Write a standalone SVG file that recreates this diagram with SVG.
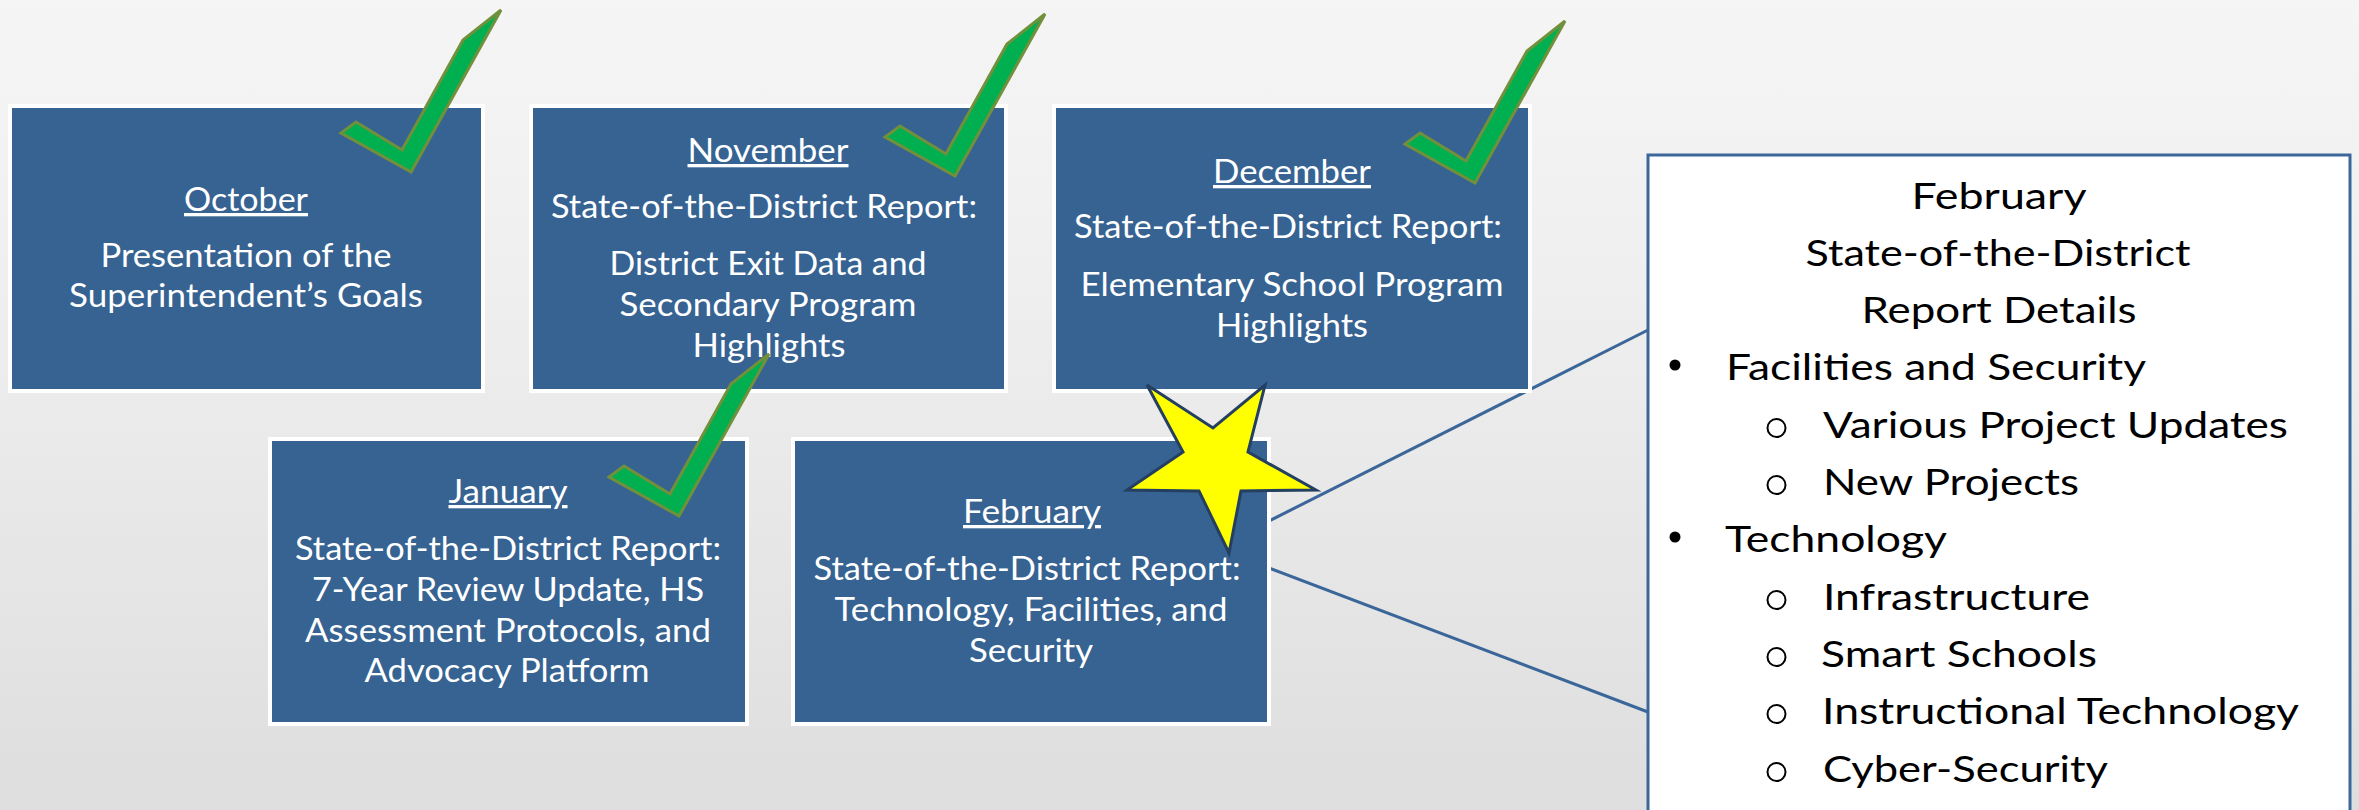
<svg xmlns="http://www.w3.org/2000/svg" xmlns:xlink="http://www.w3.org/1999/xlink" width="2359" height="810" viewBox="0 0 2359 810">
<style>
.box{fill:#366392;stroke:#ffffff;stroke-width:4}
.bt{font-family:Lato,"Open Sans",sans-serif;font-size:33px;fill:#ffffff;text-anchor:middle}
.ul{text-decoration:underline}
.pt{font-family:Lato,"Open Sans",sans-serif;font-size:37.5px;fill:#000000}
.mid{text-anchor:middle}
.check{fill:#00B050;stroke:#71903B;stroke-width:3;stroke-linejoin:miter}
.conn{stroke:#3B6699;stroke-width:3;fill:none}
.hb{fill:none;stroke:#000;stroke-width:2}
</style>
<defs>
<linearGradient id="bg" x1="0" y1="0" x2="0" y2="810" gradientUnits="userSpaceOnUse">
<stop offset="0" stop-color="#F5F5F5"/>
<stop offset="0.35" stop-color="#EFEFEF"/>
<stop offset="1" stop-color="#DEDEDE"/>
</linearGradient>
<polygon id="ck" points="0,0 90,-162 52,-132 -9,-22 -55,-50 -70,-39"/>
</defs>
<rect x="0" y="0" width="2359" height="810" fill="url(#bg)"/>

<g id="connectors">
<line class="conn" x1="1269" y1="521" x2="1648" y2="330"/>
<line class="conn" x1="1269" y1="568" x2="1648" y2="712"/>
</g>

<g id="october">
<rect class="box" x="10" y="106" width="473" height="285"/>
<text class="bt ul" x="246" y="211" textLength="124" lengthAdjust="spacingAndGlyphs">October</text>
<text class="bt" x="246" y="267" textLength="291" lengthAdjust="spacingAndGlyphs">Presentation of the</text>
<text class="bt" x="246" y="307" textLength="354" lengthAdjust="spacingAndGlyphs">Superintendent’s Goals</text>
</g>

<g id="november">
<rect class="box" x="531" y="106" width="475" height="285"/>
<text class="bt ul" x="768" y="162" textLength="161" lengthAdjust="spacingAndGlyphs">November</text>
<text class="bt" x="764" y="218" textLength="426" lengthAdjust="spacingAndGlyphs">State-of-the-District Report:</text>
<text class="bt" x="768" y="275" textLength="317" lengthAdjust="spacingAndGlyphs">District Exit Data and</text>
<text class="bt" x="768" y="316" textLength="297" lengthAdjust="spacingAndGlyphs">Secondary Program</text>
<text class="bt" x="769" y="357" textLength="153" lengthAdjust="spacingAndGlyphs">Highlights</text>
</g>

<g id="december">
<rect class="box" x="1054" y="106" width="476" height="285"/>
<text class="bt ul" x="1292" y="183" textLength="158" lengthAdjust="spacingAndGlyphs">December</text>
<text class="bt" x="1288" y="238" textLength="428" lengthAdjust="spacingAndGlyphs">State-of-the-District Report:</text>
<text class="bt" x="1292" y="296" textLength="423" lengthAdjust="spacingAndGlyphs">Elementary School Program</text>
<text class="bt" x="1292" y="337" textLength="152" lengthAdjust="spacingAndGlyphs">Highlights</text>
</g>

<g id="january">
<rect class="box" x="270" y="439" width="477" height="285"/>
<text class="bt ul" x="508" y="503" textLength="119" lengthAdjust="spacingAndGlyphs">January</text>
<text class="bt" x="508" y="560" textLength="426" lengthAdjust="spacingAndGlyphs">State-of-the-District Report:</text>
<text class="bt" x="508" y="601" textLength="392" lengthAdjust="spacingAndGlyphs">7-Year Review Update, HS</text>
<text class="bt" x="508" y="642" textLength="406" lengthAdjust="spacingAndGlyphs">Assessment Protocols, and</text>
<text class="bt" x="507" y="682" textLength="285" lengthAdjust="spacingAndGlyphs">Advocacy Platform</text>
</g>

<g id="february">
<rect class="box" x="793" y="439" width="476" height="285"/>
<text class="bt ul" x="1032" y="523" textLength="138" lengthAdjust="spacingAndGlyphs">February</text>
<text class="bt" x="1027" y="580" textLength="427" lengthAdjust="spacingAndGlyphs">State-of-the-District Report:</text>
<text class="bt" x="1031" y="621" textLength="393" lengthAdjust="spacingAndGlyphs">Technology, Facilities, and</text>
<text class="bt" x="1031" y="662" textLength="124" lengthAdjust="spacingAndGlyphs">Security</text>
</g>

<g id="checkmarks">
<use xlink:href="#ck" class="check" transform="translate(411,172)"/>
<use xlink:href="#ck" class="check" transform="translate(955,176)"/>
<use xlink:href="#ck" class="check" transform="translate(1475,183)"/>
<use xlink:href="#ck" class="check" transform="translate(679,516)"/>
</g>

<g id="star">
<polygon points="1147,385 1213,428 1265,385 1248,452 1316,490 1241,491 1229,553 1199,491 1127,490 1183,452" fill="#FFFF00" stroke="#243F60" stroke-width="3" stroke-linejoin="miter"/>
</g>

<g id="details-panel">
<rect x="1648" y="155" width="702" height="700" fill="#ffffff" stroke="#3C679A" stroke-width="3"/>
<text class="pt mid" x="1999" y="209" textLength="175" lengthAdjust="spacingAndGlyphs">February</text>
<text class="pt mid" x="1998" y="266" textLength="385" lengthAdjust="spacingAndGlyphs">State-of-the-District</text>
<text class="pt mid" x="1999" y="323" textLength="275" lengthAdjust="spacingAndGlyphs">Report Details</text>
<circle cx="1675" cy="365" r="5.5" fill="#000"/>
<text class="pt" x="1726" y="380" textLength="420" lengthAdjust="spacingAndGlyphs">Facilities and Security</text>
<circle class="hb" cx="1776.5" cy="428" r="9"/>
<text class="pt" x="1823" y="438" textLength="465" lengthAdjust="spacingAndGlyphs">Various Project Updates</text>
<circle class="hb" cx="1776.5" cy="485" r="9"/>
<text class="pt" x="1823" y="495" textLength="256" lengthAdjust="spacingAndGlyphs">New Projects</text>
<circle cx="1675" cy="537" r="5.5" fill="#000"/>
<text class="pt" x="1725" y="552" textLength="222" lengthAdjust="spacingAndGlyphs">Technology</text>
<circle class="hb" cx="1776.5" cy="600" r="9"/>
<text class="pt" x="1823" y="610" textLength="267" lengthAdjust="spacingAndGlyphs">Infrastructure</text>
<circle class="hb" cx="1776.5" cy="657" r="9"/>
<text class="pt" x="1821" y="667" textLength="276" lengthAdjust="spacingAndGlyphs">Smart Schools</text>
<circle class="hb" cx="1776.5" cy="714" r="9"/>
<text class="pt" x="1822" y="724" textLength="477" lengthAdjust="spacingAndGlyphs">Instructional Technology</text>
<circle class="hb" cx="1776.5" cy="772" r="9"/>
<text class="pt" x="1823" y="782" textLength="285" lengthAdjust="spacingAndGlyphs">Cyber-Security</text>
</g>
</svg>
